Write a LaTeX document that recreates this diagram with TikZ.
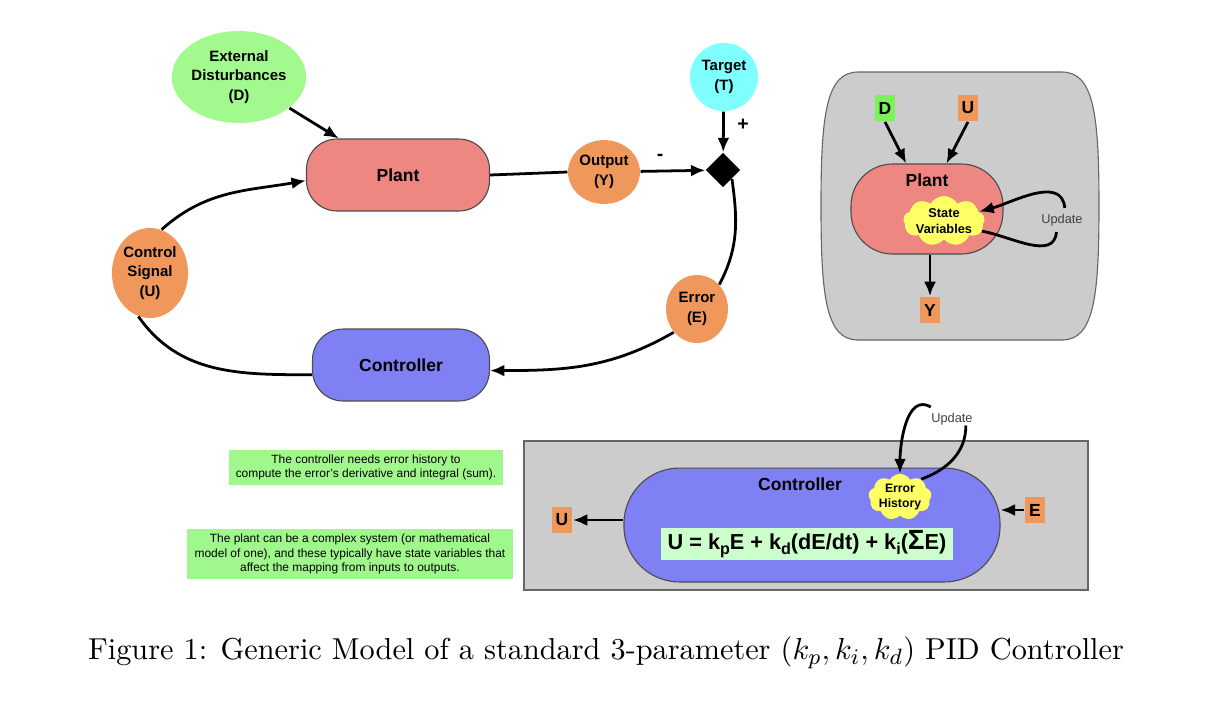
\documentclass[tikz,border=0pt]{standalone}
\usepackage{fontspec}
\newfontfamily\hv{Liberation Sans}
\usetikzlibrary{shapes.geometric,shapes.symbols,arrows.meta}
\newcommand\setfs[2]{\fontsize{#1}{#2}\selectfont}
\definecolor{distgreen}{RGB}{162,250,142}
\definecolor{notegreen}{RGB}{160,248,140}
\definecolor{tagd}{RGB}{124,242,88}
\definecolor{plantred}{RGB}{238,134,130}
\definecolor{sigorange}{RGB}{240,152,92}
\definecolor{tgtcyan}{RGB}{128,255,255}
\definecolor{ctrlblue}{RGB}{128,128,245}
\definecolor{panelgray}{RGB}{204,204,204}
\definecolor{puffyellow}{RGB}{255,255,102}
\definecolor{formgreen}{RGB}{204,255,204}
\begin{document}
\begin{tikzpicture}[x=0.36pt,y=-0.36pt,>={Latex[length=5.2pt,width=4.3pt]},
		every node/.style={align=center,inner sep=0pt},
		blob/.style={ellipse,font=\hv\bfseries\setfs{5.4}{7}},
		pill/.style={draw=black!70,rounded corners=11pt,font=\hv\bfseries\setfs{6.3}{7.5}},
		wire/.style={line width=1pt},
		tag/.style={fill=sigorange,minimum width=7.4pt,minimum height=9.6pt,font=\hv\bfseries\setfs{6.3}{7}},
		puff/.style={cloud,cloud ignores aspect,cloud puffs=9,cloud puff arc=120,fill=puffyellow,font=\hv\bfseries\setfs{4.6}{5.6}},
		note/.style={fill=notegreen,font=\hv\setfs{4.3}{5.1}},
		upd/.style={font=\hv\setfs{4.6}{5.5},text=black!75}]
		\useasboundingbox (0,0) rectangle (1216,717);
		% the loop
		\node[blob,fill=distgreen,minimum width=46.8pt,minimum height=33.1pt] at (239,77)(ext){External\\Disturbances\\(D)};
		\node[pill,fill=plantred,minimum width=65.9pt,minimum height=25.9pt] at (398,175)(plant){Plant};
		\node[blob,fill=sigorange,minimum width=25.9pt,minimum height=23pt] at (604,172)(out){Output\\(Y)};
		\node[diamond,fill=black,minimum size=12.5pt] at (723,170)(sum){};
		\node[blob,fill=tgtcyan,minimum size=24.5pt] at (724,77)(tgt){Target\\(T)};
		\node[font=\hv\bfseries\setfs{7}{8}] at (743,125)(plus){+};
		\node[font=\hv\bfseries\setfs{7}{8}] at (660,157)(minus){-};
		\node[blob,fill=sigorange,minimum width=22.3pt,minimum height=24.5pt] at (697,309)(err){Error\\(E)};
		\node[pill,fill=ctrlblue,minimum width=63.7pt,minimum height=25.9pt] at (401,365)(ctrl){Controller};
		\node[blob,fill=sigorange,minimum width=27.4pt,minimum height=32.4pt] at (150,273)(sig){Control\\Signal\\(U)};
		\draw[wire,->] (ext) -- (plant);
		\draw[wire] (plant.east) -- (out.west);
		\draw[wire,->] (out) -- (sum);
		\draw[wire,->] (tgt) -- (sum);
		\draw[wire] (sum.south east) to[out=-82,in=62] (err.north east);
		\draw[wire,->] (err.-135) to[out=-150,in=0] ([yshift=-2pt]ctrl.east);
		\draw[wire] ([yshift=-3.5pt]ctrl.west) to[out=180,in=-55] (sig.-105);
		\draw[wire,->] (sig.75) to[out=42,in=190] ([yshift=-2pt]plant.west);
		% the plant
		\draw[fill=panelgray,draw=black!60] (858,72) -- (1062,72)
			.. controls (1094,72) and (1099,115) .. (1099,206)
			.. controls (1099,297) and (1094,340) .. (1062,340) -- (858,340)
			.. controls (826,340) and (821,297) .. (821,206)
			.. controls (821,115) and (826,72) .. (858,72);
		\node[tag,fill=tagd] at (885,108)(d2){D};
		\node[tag] at (968,108)(u2){U};
		\node[draw=black!70,fill=plantred,rounded corners=15pt,minimum width=54.7pt,minimum height=32.4pt] at (927,209)(p2){};
		\node[font=\hv\bfseries\setfs{6.3}{7}] at (927,180)(p2lab){Plant};
		\node[puff,minimum width=28.5pt,minimum height=18pt] at (944,221)(sv){State\\Variables};
		\node[tag] at (930,310)(y2){Y};
		\node[upd] at (1062,220)(upd1){Update};
		\draw[wire,->] (d2.south) -- ([xshift=-7.5pt]p2.north);
		\draw[wire,->] (u2.south) -- ([xshift=7pt]p2.north);
		\draw[wire,->] (p2.south -| y2.north) -- (y2.north);
		\draw[wire] (sv.-15) to[out=-10,in=-95] ([xshift=-2pt,yshift=-2pt]upd1.south);
		\draw[wire,->] ([xshift=1pt,yshift=2pt]upd1.north) to[out=95,in=15] (sv.15);
		% the controller
		\draw[fill=panelgray,draw=black!60] (524,441) rectangle (1088,590);
		\node[draw=black!70,fill=ctrlblue,rounded corners=20pt,minimum width=135.4pt,minimum height=41pt] at (812,525)(c2){};
		\node[font=\hv\bfseries\setfs{6.3}{7}] at (800,484)(c2lab){Controller};
		\node[puff,font=\hv\bfseries\setfs{4.4}{5.4},minimum width=20.9pt,minimum height=16.6pt] at (900,497)(eh){Error\\History};
		\node[fill=formgreen,minimum width=105pt,minimum height=11.2pt,font=\hv\bfseries\setfs{7.8}{9}] at (807,544)(form)
			{U = k\lower1.6pt\hbox{\setfs{5.8}{6}p}E + k\lower1.6pt\hbox{\setfs{5.8}{6}d}(dE/dt) + k\lower1.6pt\hbox{\setfs{5.8}{6}i}({\setfs{10}{10}Σ}E)};
		\node[tag] at (562,520)(u3){U};
		\node[tag] at (1035,510)(e3){E};
		\node[upd] at (952,419)(upd2){Update};
		\draw[wire,->] (u3.east -| c2.west) -- (u3.east);
		\draw[wire,->] (e3.west) -- (e3.west -| c2.east);
		\draw[wire,->] ([yshift=2pt]upd2.north west) to[out=150,in=90] (eh.north);
		\draw[wire] (eh.40) to[out=20,in=-90] ([xshift=5pt]upd2.south);
		% notes
		\node[note,minimum width=98.6pt,minimum height=12.6pt] at (366,467)(n1){The controller needs error history to\\compute the error’s derivative and integral (sum).};
		\node[note,minimum width=117.4pt,minimum height=18pt] at (350,554)(n2){The plant can be a complex system (or mathematical\\model of one), and these typically have state variables that\\affect the mapping from inputs to outputs.};
		\node[font=\setfs{10.9}{13}] at (606,653)(cap){Figure 1: Generic Model of a standard 3-parameter $(k_p, k_i, k_d)$ PID Controller};
	\end{tikzpicture}
\end{document}
